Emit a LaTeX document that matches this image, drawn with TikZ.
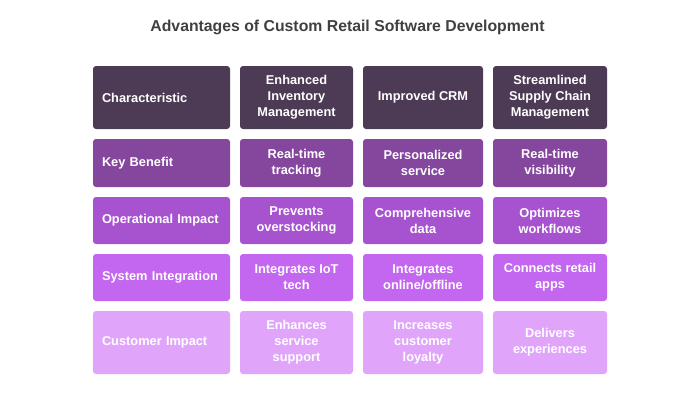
\documentclass[tikz,border=0pt]{standalone}
\usepackage{fontspec}
\setmainfont{Liberation Sans}
\definecolor{rowA}{HTML}{4D3B55}
\definecolor{rowB}{HTML}{85479E}
\definecolor{rowC}{HTML}{A753D0}
\definecolor{rowD}{HTML}{C366F0}
\definecolor{rowE}{HTML}{E0A5FA}
\definecolor{titlegray}{HTML}{404040}
\tikzset{
  cell/.style={rounded corners=3pt, inner sep=0pt, align=center, text=white,
    font=\fontsize{12.8}{16}\selectfont\bfseries},
  headcell/.style={cell, align=left, inner xsep=9pt, text width=119pt, minimum width=137pt},
  colB/.style={cell, minimum width=113pt},
  colC/.style={cell, minimum width=120pt},
  colD/.style={cell, minimum width=114pt},
  tall/.style={minimum height=63pt},
  short/.style={minimum height=47pt}
}
\begin{document}
\begin{tikzpicture}[x=1pt,y=-1pt]
\useasboundingbox (0,0) rectangle (700,400);
\node[font=\fontsize{15.8}{19}\selectfont\bfseries, text=titlegray] (title) at (347.5,27) {Advantages of Custom Retail Software Development};
\node[headcell, tall, fill=rowA] (char) at (161.5,97.5) {Characteristic};
\node[colB, tall, fill=rowA] (inv) at (296.5,97.5) {Enhanced\\Inventory\\Management};
\node[colC, tall, fill=rowA] (crm) at (423,97.5) {Improved CRM};
\node[colD, tall, fill=rowA] (supply) at (550,97.5) {Streamlined\\Supply Chain\\Management};
\node[headcell, minimum height=48pt, fill=rowB] (benefit) at (161.5,163) {Key Benefit};
\node[colB, minimum height=48pt, fill=rowB] (benefitB) at (296.5,163) {Real-time\\tracking};
\node[colC, minimum height=48pt, fill=rowB] (benefitC) at (423,163) {Personalized\\service};
\node[colD, minimum height=48pt, fill=rowB] (benefitD) at (550,163) {Real-time\\visibility};
\node[headcell, short, fill=rowC] (oper) at (161.5,220.5) {Operational Impact};
\node[colB, short, fill=rowC] (operB) at (296.5,220.5) {Prevents\\overstocking};
\node[colC, short, fill=rowC] (operC) at (423,220.5) {Comprehensive\\data};
\node[colD, short, fill=rowC] (operD) at (550,220.5) {Optimizes\\workflows};
\node[headcell, short, fill=rowD] (integ) at (161.5,277.5) {System Integration};
\node[colB, short, fill=rowD] (integB) at (296.5,277.5) {Integrates IoT\\tech};
\node[colC, short, fill=rowD] (integC) at (423,277.5) {Integrates\\online/offline};
\node[colD, short, fill=rowD] (integD) at (550,277.5) {Connects retail\\apps};
\node[headcell, tall, fill=rowE] (cust) at (161.5,342.5) {Customer Impact};
\node[colB, tall, fill=rowE] (custB) at (296.5,342.5) {Enhances\\service\\support};
\node[colC, tall, fill=rowE] (custC) at (423,342.5) {Increases\\customer\\loyalty};
\node[colD, tall, fill=rowE] (custD) at (550,342.5) {Delivers\\experiences};
\end{tikzpicture}
\end{document}
